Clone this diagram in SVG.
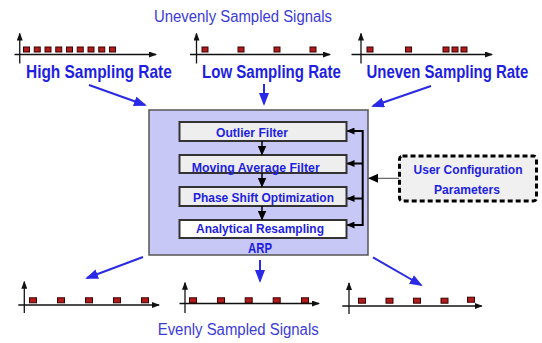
<svg xmlns="http://www.w3.org/2000/svg" width="542" height="343" viewBox="0 0 542 343">
<defs>
<marker id="ab" markerUnits="userSpaceOnUse" markerWidth="13" markerHeight="10" refX="11" refY="5" orient="auto"><path d="M0,0 L13,5 L0,10 z" fill="#2a2ae6"/></marker>
<marker id="ax" markerUnits="userSpaceOnUse" markerWidth="8" markerHeight="6" refX="7" refY="3" orient="auto"><path d="M0,0 L8,3 L0,6 z" fill="#111"/></marker>
<marker id="ak" markerUnits="userSpaceOnUse" markerWidth="10" markerHeight="9" refX="9" refY="4.5" orient="auto"><path d="M0,0 L10,4.5 L0,9 z" fill="#000"/></marker>
<marker id="as" markerUnits="userSpaceOnUse" markerWidth="8" markerHeight="7" refX="7" refY="3.5" orient="auto"><path d="M0,0 L8,3.5 L0,7 z" fill="#000"/></marker>
</defs>
<style>
text{font-family:"Liberation Sans",Arial,sans-serif;}
.title{font-size:16px;fill:#3b3bd8;}
.lbl{font-size:19px;font-weight:bold;fill:#1e1ee0;}
.in{font-size:13.5px;font-weight:bold;fill:#1e1ee0;}
.axl{stroke:#111;stroke-width:1.3;fill:none;marker-end:url(#ax);}
.s{fill:#b01c1c;stroke:#3a0000;stroke-width:1;}
.blue{stroke:#2a2ae6;stroke-width:2;fill:none;marker-end:url(#ab);}
.blk{stroke:#000;stroke-width:1.5;fill:none;marker-end:url(#ak);}
.bus{stroke:#000;stroke-width:2;fill:none;marker-end:url(#as);}
.box{fill:#eeeeee;stroke:#333;stroke-width:2;}
</style>
<rect width="542" height="343" fill="#fff"/>

<g id="title-top"><text class="title" x="154" y="21.5" textLength="178" lengthAdjust="spacingAndGlyphs">Unevenly Sampled Signals</text></g>

<g id="plot-high">
<path class="axl" d="M14.5,54.5 H156"/><path class="axl" d="M19.75,63.5 V33.5"/>
<rect class="s" x="23.5" y="47" width="6" height="5"/><rect class="s" x="34.25" y="47" width="6" height="5"/><rect class="s" x="45" y="47" width="6" height="5"/><rect class="s" x="55.75" y="47" width="6" height="5"/><rect class="s" x="66.5" y="47" width="6" height="5"/><rect class="s" x="77.25" y="47" width="6" height="5"/><rect class="s" x="88" y="47" width="6" height="5"/><rect class="s" x="98.75" y="47" width="6" height="5"/><rect class="s" x="109.5" y="47" width="6" height="5"/>
</g>
<g id="plot-low">
<path class="axl" d="M190,54.5 H330"/><path class="axl" d="M196.5,63.5 V33.5"/>
<rect class="s" x="202" y="47" width="6" height="5"/><rect class="s" x="238" y="47" width="6" height="5"/><rect class="s" x="274" y="47" width="6" height="5"/><rect class="s" x="310" y="47" width="6" height="5"/>
</g>
<g id="plot-uneven">
<path class="axl" d="M351.5,54.5 H492"/><path class="axl" d="M361,63.5 V33.5"/>
<rect class="s" x="367" y="47" width="6" height="5"/><rect class="s" x="405.5" y="47" width="6" height="5"/><rect class="s" x="443" y="47" width="6" height="5"/><rect class="s" x="452" y="47" width="6" height="5"/><rect class="s" x="461" y="47" width="6" height="5"/>
</g>

<g id="label-high"><text class="lbl" transform="translate(26,77.5) scale(0.813,1)">High Sampling Rate</text></g>
<g id="label-low"><text class="lbl" transform="translate(202,77.5) scale(0.793,1)">Low Sampling Rate</text></g>
<g id="label-uneven"><text class="lbl" transform="translate(366.5,77.5) scale(0.787,1)">Uneven Sampling Rate</text></g>

<g id="arp">
<rect x="149" y="110" width="219" height="145" fill="#c8c8f6" stroke="#555" stroke-width="1.5"/>
<text x="260" y="252.5" text-anchor="middle" style="font-size:14px;font-weight:bold;fill:#1e1ee0" textLength="24" lengthAdjust="spacingAndGlyphs">ARP</text>
</g>
<g id="outlier-filter"><rect class="box" x="179.5" y="122" width="167" height="19"/><text class="in" x="216" y="137.3" textLength="72" lengthAdjust="spacingAndGlyphs">Outlier Filter</text></g>
<g id="moving-average-filter"><rect class="box" x="179.5" y="155" width="167" height="18"/><text class="in" x="191.7" y="171.7" textLength="128" lengthAdjust="spacingAndGlyphs">Moving Average Filter</text></g>
<g id="phase-shift-optimization"><rect class="box" x="179.5" y="187" width="167" height="19"/><text class="in" x="193" y="201.7" textLength="141" lengthAdjust="spacingAndGlyphs">Phase Shift Optimization</text></g>
<g id="analytical-resampling"><rect class="box" x="179.5" y="220" width="167" height="18" style="fill:#fff"/><text class="in" x="196" y="232.7" textLength="128" lengthAdjust="spacingAndGlyphs">Analytical Resampling</text></g>

<g id="user-config">
<rect x="399.5" y="156" width="137" height="45" rx="3" fill="#f0f0f0" stroke="#000" stroke-width="3" stroke-dasharray="5 3"/>
<text class="in" x="468" y="174" text-anchor="middle" textLength="109" lengthAdjust="spacingAndGlyphs">User Configuration</text>
<text class="in" x="467" y="194" text-anchor="middle" textLength="66" lengthAdjust="spacingAndGlyphs">Parameters</text>
</g>

<g id="plot-out-1">
<path class="axl" d="M18.3,305 H159"/><path class="axl" d="M24.3,313 V281.7"/>
<rect class="s" x="29.5" y="297.8" width="7" height="5"/><rect class="s" x="57.5" y="297.8" width="7" height="5"/><rect class="s" x="85.5" y="297.8" width="7" height="5"/><rect class="s" x="113.5" y="297.8" width="7" height="5"/><rect class="s" x="141.5" y="297.8" width="7" height="5"/>
</g>
<g id="plot-out-2">
<path class="axl" d="M179.5,303.5 H319"/><path class="axl" d="M185,313 V282.7"/>
<rect class="s" x="189.5" y="297.8" width="7" height="5"/><rect class="s" x="217.5" y="297.8" width="7" height="5"/><rect class="s" x="245.2" y="297.8" width="7" height="5"/><rect class="s" x="273.2" y="297.8" width="7" height="5"/><rect class="s" x="301.5" y="297.8" width="7" height="5"/>
</g>
<g id="plot-out-3">
<path class="axl" d="M342.3,306 H481.7"/><path class="axl" d="M349,314 V283"/>
<rect class="s" x="358.5" y="298.2" width="7" height="5"/><rect class="s" x="386" y="298.2" width="7" height="5"/><rect class="s" x="413.5" y="298.2" width="7" height="5"/><rect class="s" x="441" y="298.2" width="7" height="5"/><rect class="s" x="467.5" y="297.2" width="7" height="5"/>
</g>

<g id="title-bottom"><text class="title" x="157.7" y="334.5" textLength="161" lengthAdjust="spacingAndGlyphs">Evenly Sampled Signals</text></g>

<g id="connectors">
<path class="blue" d="M89,85 L145,105"/>
<path class="blue" d="M264,84 V104"/>
<path class="blue" d="M431,86 L373,106"/>
<path class="blue" d="M143,257 L87,278"/>
<path class="blue" d="M260,260 V281"/>
<path class="blue" d="M373,257.3 L421,285"/>
<path class="blk" d="M262,141 V154.5"/>
<path class="blk" d="M262,173 V186.5"/>
<path class="blk" d="M262,206 V219.5"/>
<path d="M362.7,130 V226" stroke="#000" stroke-width="2" fill="none"/>
<path class="bus" d="M362.7,131 H347.5"/>
<path class="bus" d="M362.7,163.5 H347.5"/>
<path class="bus" d="M362.7,198.5 H347.5"/>
<path class="bus" d="M362.7,225 H347.5"/>
<path d="M399,178.3 H369" stroke="#444" stroke-width="1" fill="none" marker-end="url(#ak)"/>
</g>
</svg>
